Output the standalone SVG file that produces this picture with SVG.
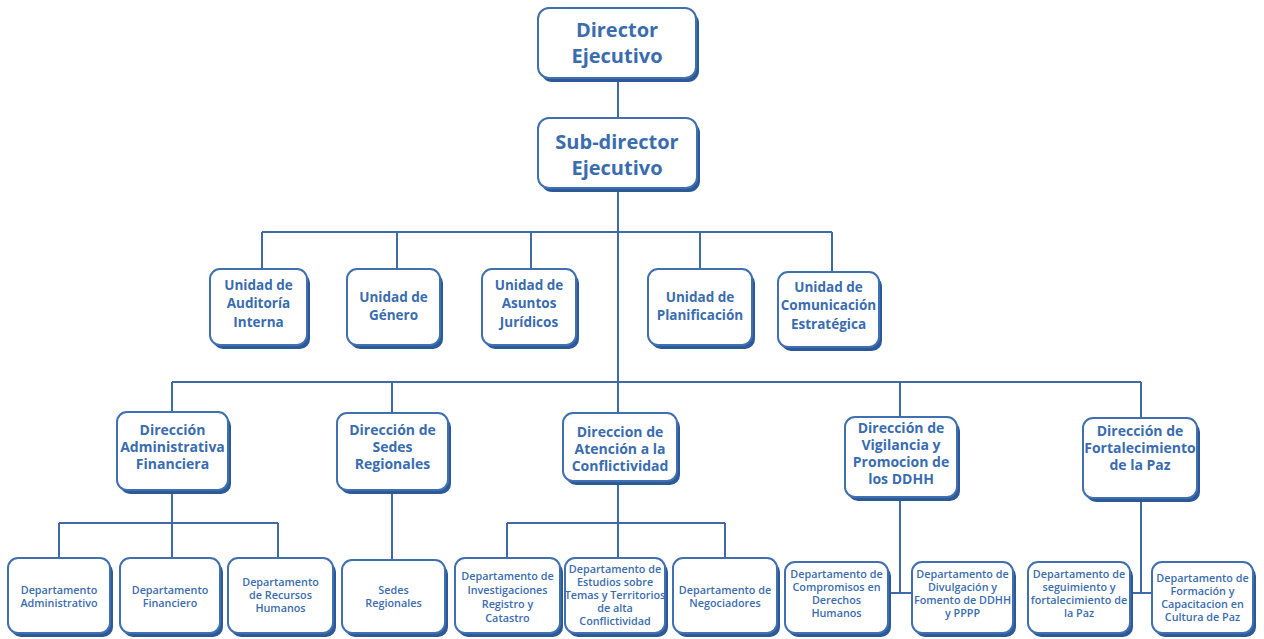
<svg xmlns="http://www.w3.org/2000/svg" width="1264" height="639" viewBox="0 0 1264 639">
<style>
.sh{fill:#2c5998}
.bx{fill:#ffffff;stroke:#4170b0;stroke-width:2}
.c{fill:none;stroke:#3f6aa6;stroke-width:2}
text{font-family:"Open Sans","Liberation Sans",sans-serif;fill:#3a6cb0;text-anchor:middle}
.t1{font-size:20px;font-weight:700}
.t2{font-size:13.5px;font-weight:700}
.t3{font-size:14px;font-weight:700}
.t4{font-size:10.8px;font-weight:600}
</style>
<rect width="1264" height="639" fill="#ffffff"/>
<g id="connectors">
<path class="c" d="M618 78V413"/>
<path class="c" d="M262 232H832M262 232V269M397 232V269M531 232V269M700 232V269M832 232V272"/>
<path class="c" d="M172 382H1141M172 382V412M392 382V413M900 382V417M1141 382V418"/>
<path class="c" d="M172 490V523M59 523H278M59 523V558M172 523V558M278 523V558"/>
<path class="c" d="M392 490V560"/>
<path class="c" d="M618 480V523M507 523H725M507 523V558M618 523V558M725 523V558"/>
<path class="c" d="M900 497V593M888 593H912"/>
<path class="c" d="M1141 498V593M1130 593H1152"/>
</g>
<g id="director">
<rect class="sh" x="541" y="12" width="158" height="70" rx="11"/>
<rect class="bx" x="538" y="8" width="158" height="70" rx="11"/>
<text class="t1" x="617" y="37">Director</text>
<text class="t1" x="617" y="63">Ejecutivo</text>
</g>
<g id="subdirector">
<rect class="sh" x="541" y="122" width="159" height="70" rx="11"/>
<rect class="bx" x="538" y="118" width="159" height="70" rx="11"/>
<text class="t1" x="617" y="149">Sub-director</text>
<text class="t1" x="617" y="175">Ejecutivo</text>
</g>
<g id="u-auditoria">
<rect class="sh" x="213" y="273" width="97" height="76" rx="10"/>
<rect class="bx" x="210" y="269" width="97" height="76" rx="10"/>
<text class="t2" x="258.5" y="290">Unidad de</text>
<text class="t2" x="258.5" y="308">Auditoría</text>
<text class="t2" x="258.5" y="327">Interna</text>
</g>
<g id="u-genero">
<rect class="sh" x="350" y="273" width="93" height="76" rx="10"/>
<rect class="bx" x="347" y="269" width="93" height="76" rx="10"/>
<text class="t2" x="393.5" y="302">Unidad de</text>
<text class="t2" x="393.5" y="320">Género</text>
</g>
<g id="u-juridicos">
<rect class="sh" x="485" y="273" width="94" height="76" rx="10"/>
<rect class="bx" x="482" y="269" width="94" height="76" rx="10"/>
<text class="t2" x="529" y="290">Unidad de</text>
<text class="t2" x="529" y="308">Asuntos</text>
<text class="t2" x="529" y="327">Jurídicos</text>
</g>
<g id="u-planificacion">
<rect class="sh" x="651" y="273" width="104" height="76" rx="10"/>
<rect class="bx" x="648" y="269" width="104" height="76" rx="10"/>
<text class="t2" x="700" y="302">Unidad de</text>
<text class="t2" x="700" y="320">Planificación</text>
</g>
<g id="u-comunicacion">
<rect class="sh" x="781" y="276" width="101" height="75" rx="10"/>
<rect class="bx" x="778" y="272" width="101" height="75" rx="10"/>
<text class="t2" x="828.5" y="292">Unidad de</text>
<text class="t2" x="828.5" y="310">Comunicación</text>
<text class="t2" x="828.5" y="329">Estratégica</text>
</g>
<g id="d-administrativa">
<rect class="sh" x="120" y="416" width="111" height="78" rx="10"/>
<rect class="bx" x="117" y="412" width="111" height="78" rx="10"/>
<text class="t3" x="172.5" y="435">Dirección</text>
<text class="t3" x="172.5" y="452">Administrativa</text>
<text class="t3" x="172.5" y="469">Financiera</text>
</g>
<g id="d-sedes">
<rect class="sh" x="340" y="417" width="111" height="77" rx="10"/>
<rect class="bx" x="337" y="413" width="111" height="77" rx="10"/>
<text class="t3" x="392.5" y="435">Dirección de</text>
<text class="t3" x="392.5" y="452">Sedes</text>
<text class="t3" x="392.5" y="469">Regionales</text>
</g>
<g id="d-atencion">
<rect class="sh" x="566" y="417" width="114" height="68" rx="10"/>
<rect class="bx" x="563" y="413" width="114" height="68" rx="10"/>
<text class="t3" x="620" y="437">Direccion de</text>
<text class="t3" x="620" y="454">Atención a la</text>
<text class="t3" x="620" y="471">Conflictividad</text>
</g>
<g id="d-vigilancia">
<rect class="sh" x="848" y="421" width="112" height="80" rx="10"/>
<rect class="bx" x="845" y="417" width="112" height="80" rx="10"/>
<text class="t3" x="901" y="433">Dirección de</text>
<text class="t3" x="901" y="450">Vigilancia y</text>
<text class="t3" x="901" y="467">Promocion de</text>
<text class="t3" x="901" y="484">los DDHH</text>
</g>
<g id="d-fortalecimiento">
<rect class="sh" x="1086" y="422" width="114" height="80" rx="10"/>
<rect class="bx" x="1083" y="418" width="114" height="80" rx="10"/>
<text class="t3" x="1140" y="436">Dirección de</text>
<text class="t3" x="1140" y="453">Fortalecimiento</text>
<text class="t3" x="1140" y="470">de la Paz</text>
</g>
<g id="dep-administrativo">
<rect class="sh" x="11" y="562" width="102" height="75" rx="10"/>
<rect class="bx" x="8" y="558" width="102" height="75" rx="10"/>
<text class="t4" x="59" y="594">Departamento</text>
<text class="t4" x="59" y="607">Administrativo</text>
</g>
<g id="dep-financiero">
<rect class="sh" x="123" y="562" width="100" height="75" rx="10"/>
<rect class="bx" x="120" y="558" width="100" height="75" rx="10"/>
<text class="t4" x="170" y="594">Departamento</text>
<text class="t4" x="170" y="607">Financiero</text>
</g>
<g id="dep-rrhh">
<rect class="sh" x="231" y="562" width="105" height="75" rx="10"/>
<rect class="bx" x="228" y="558" width="105" height="75" rx="10"/>
<text class="t4" x="280.5" y="586">Departamento</text>
<text class="t4" x="280.5" y="599">de Recursos</text>
<text class="t4" x="280.5" y="612">Humanos</text>
</g>
<g id="dep-sedes">
<rect class="sh" x="345" y="564" width="103" height="73" rx="10"/>
<rect class="bx" x="342" y="560" width="103" height="73" rx="10"/>
<text class="t4" x="393.5" y="594">Sedes</text>
<text class="t4" x="393.5" y="607">Regionales</text>
</g>
<g id="dep-investigaciones">
<rect class="sh" x="458" y="562" width="105" height="75" rx="10"/>
<rect class="bx" x="455" y="558" width="105" height="75" rx="10"/>
<text class="t4" x="507.5" y="580">Departamento de</text>
<text class="t4" x="507.5" y="594">Investigaciones</text>
<text class="t4" x="507.5" y="608">Registro y</text>
<text class="t4" x="507.5" y="622">Catastro</text>
</g>
<g id="dep-estudios">
<rect class="sh" x="568" y="562" width="100" height="75" rx="10"/>
<rect class="bx" x="565" y="558" width="100" height="75" rx="10"/>
<text class="t4" x="615" y="573">Departamento de</text>
<text class="t4" x="615" y="586">Estudios sobre</text>
<text class="t4" x="615" y="599">Temas y Territorios</text>
<text class="t4" x="615" y="612">de alta</text>
<text class="t4" x="615" y="625">Conflictividad</text>
</g>
<g id="dep-negociadores">
<rect class="sh" x="676" y="562" width="104" height="75" rx="10"/>
<rect class="bx" x="673" y="558" width="104" height="75" rx="10"/>
<text class="t4" x="725" y="594">Departamento de</text>
<text class="t4" x="725" y="607">Negociadores</text>
</g>
<g id="dep-compromisos">
<rect class="sh" x="788" y="566" width="103" height="71" rx="10"/>
<rect class="bx" x="785" y="562" width="103" height="71" rx="10"/>
<text class="t4" x="836.5" y="578">Departamento de</text>
<text class="t4" x="836.5" y="591">Compromisos en</text>
<text class="t4" x="836.5" y="604">Derechos</text>
<text class="t4" x="836.5" y="617">Humanos</text>
</g>
<g id="dep-divulgacion">
<rect class="sh" x="915" y="566" width="101" height="71" rx="10"/>
<rect class="bx" x="912" y="562" width="101" height="71" rx="10"/>
<text class="t4" x="962.5" y="578">Departamento de</text>
<text class="t4" x="962.5" y="591">Divulgación y</text>
<text class="t4" x="962.5" y="604">Fomento de DDHH</text>
<text class="t4" x="962.5" y="617">y PPPP</text>
</g>
<g id="dep-seguimiento">
<rect class="sh" x="1031" y="566" width="102" height="71" rx="10"/>
<rect class="bx" x="1028" y="562" width="102" height="71" rx="10"/>
<text class="t4" x="1079" y="578">Departamento de</text>
<text class="t4" x="1079" y="591">seguimiento y</text>
<text class="t4" x="1079" y="604">fortalecimiento de</text>
<text class="t4" x="1079" y="617">la Paz</text>
</g>
<g id="dep-formacion">
<rect class="sh" x="1155" y="566" width="101" height="71" rx="10"/>
<rect class="bx" x="1152" y="562" width="101" height="71" rx="10"/>
<text class="t4" x="1202.5" y="582">Departamento de</text>
<text class="t4" x="1202.5" y="595">Formación y</text>
<text class="t4" x="1202.5" y="608">Capacitacion en</text>
<text class="t4" x="1202.5" y="621">Cultura de Paz</text>
</g>
</svg>
